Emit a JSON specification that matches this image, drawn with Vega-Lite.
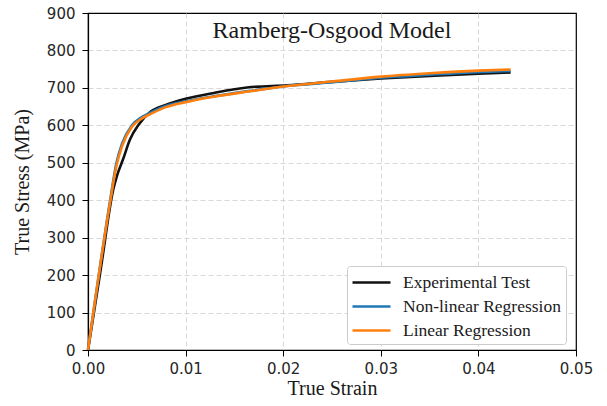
{
  "$schema": "https://vega.github.io/schema/vega-lite/v6.json",
  "width": 488,
  "height": 337,
  "autosize": "none",
  "padding": {"left": 88, "top": 13, "right": 31, "bottom": 56},
  "background": "white",
  "title": {
    "text": "Ramberg-Osgood Model",
    "font": "Liberation Serif",
    "fontSize": 24,
    "fontWeight": "normal",
    "color": "#1a1a1a",
    "anchor": "middle",
    "offset": -37
  },
  "config": {
    "view": {"stroke": "#000000", "strokeWidth": 1.2},
    "axis": {
      "labelFont": "DejaVu Sans",
      "labelFontSize": 15,
      "labelColor": "#262626",
      "labelFlush": false,
      "labelOverlap": false,
      "titleFont": "Liberation Serif",
      "titleFontSize": 20,
      "titleFontWeight": "normal",
      "titleColor": "#1a1a1a",
      "domainColor": "#000000",
      "domainWidth": 1.2,
      "tickColor": "#000000",
      "tickSize": 6,
      "grid": true,
      "gridColor": "#d4d4d4",
      "gridDash": [5, 3],
      "gridWidth": 0.9
    }
  },
  "data": {
    "values": [
      {"series": "Experimental Test", "strain": 0.0, "stress": 0},
      {"series": "Experimental Test", "strain": 0.0013, "stress": 215},
      {"series": "Experimental Test", "strain": 0.0026, "stress": 430},
      {"series": "Experimental Test", "strain": 0.0030, "stress": 468},
      {"series": "Experimental Test", "strain": 0.0036, "stress": 510},
      {"series": "Experimental Test", "strain": 0.0043, "stress": 562},
      {"series": "Experimental Test", "strain": 0.0052, "stress": 602},
      {"series": "Experimental Test", "strain": 0.0064, "stress": 636},
      {"series": "Experimental Test", "strain": 0.0079, "stress": 654},
      {"series": "Experimental Test", "strain": 0.0100, "stress": 671},
      {"series": "Experimental Test", "strain": 0.0130, "stress": 687},
      {"series": "Experimental Test", "strain": 0.0163, "stress": 701},
      {"series": "Experimental Test", "strain": 0.0204, "stress": 707},
      {"series": "Experimental Test", "strain": 0.0250, "stress": 716},
      {"series": "Experimental Test", "strain": 0.0300, "stress": 725},
      {"series": "Experimental Test", "strain": 0.0350, "stress": 732},
      {"series": "Experimental Test", "strain": 0.0400, "stress": 738},
      {"series": "Experimental Test", "strain": 0.0433, "stress": 741},
      {"series": "Non-linear Regression", "strain": 0.0, "stress": 0},
      {"series": "Non-linear Regression", "strain": 0.0023, "stress": 405},
      {"series": "Non-linear Regression", "strain": 0.0029, "stress": 498},
      {"series": "Non-linear Regression", "strain": 0.0035, "stress": 552},
      {"series": "Non-linear Regression", "strain": 0.0045, "stress": 600},
      {"series": "Non-linear Regression", "strain": 0.0055, "stress": 622},
      {"series": "Non-linear Regression", "strain": 0.0064, "stress": 634},
      {"series": "Non-linear Regression", "strain": 0.0079, "stress": 651},
      {"series": "Non-linear Regression", "strain": 0.0100, "stress": 664},
      {"series": "Non-linear Regression", "strain": 0.0130, "stress": 678},
      {"series": "Non-linear Regression", "strain": 0.0166, "stress": 692},
      {"series": "Non-linear Regression", "strain": 0.0204, "stress": 705},
      {"series": "Non-linear Regression", "strain": 0.0250, "stress": 715},
      {"series": "Non-linear Regression", "strain": 0.0300, "stress": 727},
      {"series": "Non-linear Regression", "strain": 0.0350, "stress": 735},
      {"series": "Non-linear Regression", "strain": 0.0400, "stress": 742},
      {"series": "Non-linear Regression", "strain": 0.0433, "stress": 745},
      {"series": "Linear Regression", "strain": 0.0, "stress": 0},
      {"series": "Linear Regression", "strain": 0.0023, "stress": 400},
      {"series": "Linear Regression", "strain": 0.0029, "stress": 490},
      {"series": "Linear Regression", "strain": 0.0035, "stress": 545},
      {"series": "Linear Regression", "strain": 0.0045, "stress": 596},
      {"series": "Linear Regression", "strain": 0.0055, "stress": 618},
      {"series": "Linear Regression", "strain": 0.0064, "stress": 630},
      {"series": "Linear Regression", "strain": 0.0079, "stress": 648},
      {"series": "Linear Regression", "strain": 0.0100, "stress": 662},
      {"series": "Linear Regression", "strain": 0.0130, "stress": 677},
      {"series": "Linear Regression", "strain": 0.0166, "stress": 691},
      {"series": "Linear Regression", "strain": 0.0204, "stress": 705},
      {"series": "Linear Regression", "strain": 0.0250, "stress": 717},
      {"series": "Linear Regression", "strain": 0.0300, "stress": 730},
      {"series": "Linear Regression", "strain": 0.0350, "stress": 739},
      {"series": "Linear Regression", "strain": 0.0400, "stress": 746},
      {"series": "Linear Regression", "strain": 0.0433, "stress": 749}
    ]
  },
  "encoding": {
    "x": {
      "field": "strain",
      "type": "quantitative",
      "title": "True Strain",
      "scale": {"domain": [0, 0.05], "nice": false, "zero": false},
      "axis": {
        "values": [0, 0.01, 0.02, 0.03, 0.04, 0.05],
        "format": ".2f",
        "labelPadding": 5,
        "titlePadding": 2,
        "gridOpacity": {"condition": {"test": "datum.value <= 0 || datum.value >= 0.05", "value": 0}, "value": 1}
      }
    },
    "y": {
      "field": "stress",
      "type": "quantitative",
      "title": "True Stress (MPa)",
      "scale": {"domain": [0, 900], "nice": false},
      "axis": {
        "values": [0, 100, 200, 300, 400, 500, 600, 700, 800, 900],
        "labelPadding": 7,
        "titlePadding": 14,
        "gridOpacity": {"condition": {"test": "datum.value <= 0 || datum.value >= 900", "value": 0}, "value": 1}
      }
    },
    "color": {
      "field": "series",
      "type": "nominal",
      "scale": {
        "domain": ["Experimental Test", "Non-linear Regression", "Linear Regression"],
        "range": ["#111111", "#1f77b4", "#ff7f0e"]
      },
      "legend": {
        "title": null,
        "orient": "none",
        "legendX": 259,
        "legendY": 253,
        "symbolType": "M-1.9,0H1.9",
        "symbolSize": 400,
        "symbolStrokeWidth": 2.5,
        "symbolOffset": 8,
        "labelFont": "Liberation Serif",
        "labelFontSize": 17.5,
        "labelColor": "#1a1a1a",
        "labelOffset": 20,
        "rowPadding": 4,
        "padding": 5,
        "strokeColor": "#cccccc",
        "fillColor": "white",
        "cornerRadius": 3
      }
    }
  },
  "layer": [
    {
      "transform": [{"filter": "datum.series === 'Experimental Test'"}],
      "mark": {"type": "line", "strokeWidth": 2.6, "interpolate": "monotone"}
    },
    {
      "transform": [{"filter": "datum.series === 'Non-linear Regression'"}],
      "mark": {"type": "line", "strokeWidth": 2.6, "interpolate": "monotone"}
    },
    {
      "transform": [{"filter": "datum.series === 'Linear Regression'"}],
      "mark": {"type": "line", "strokeWidth": 2.6, "interpolate": "monotone"}
    }
  ]
}
